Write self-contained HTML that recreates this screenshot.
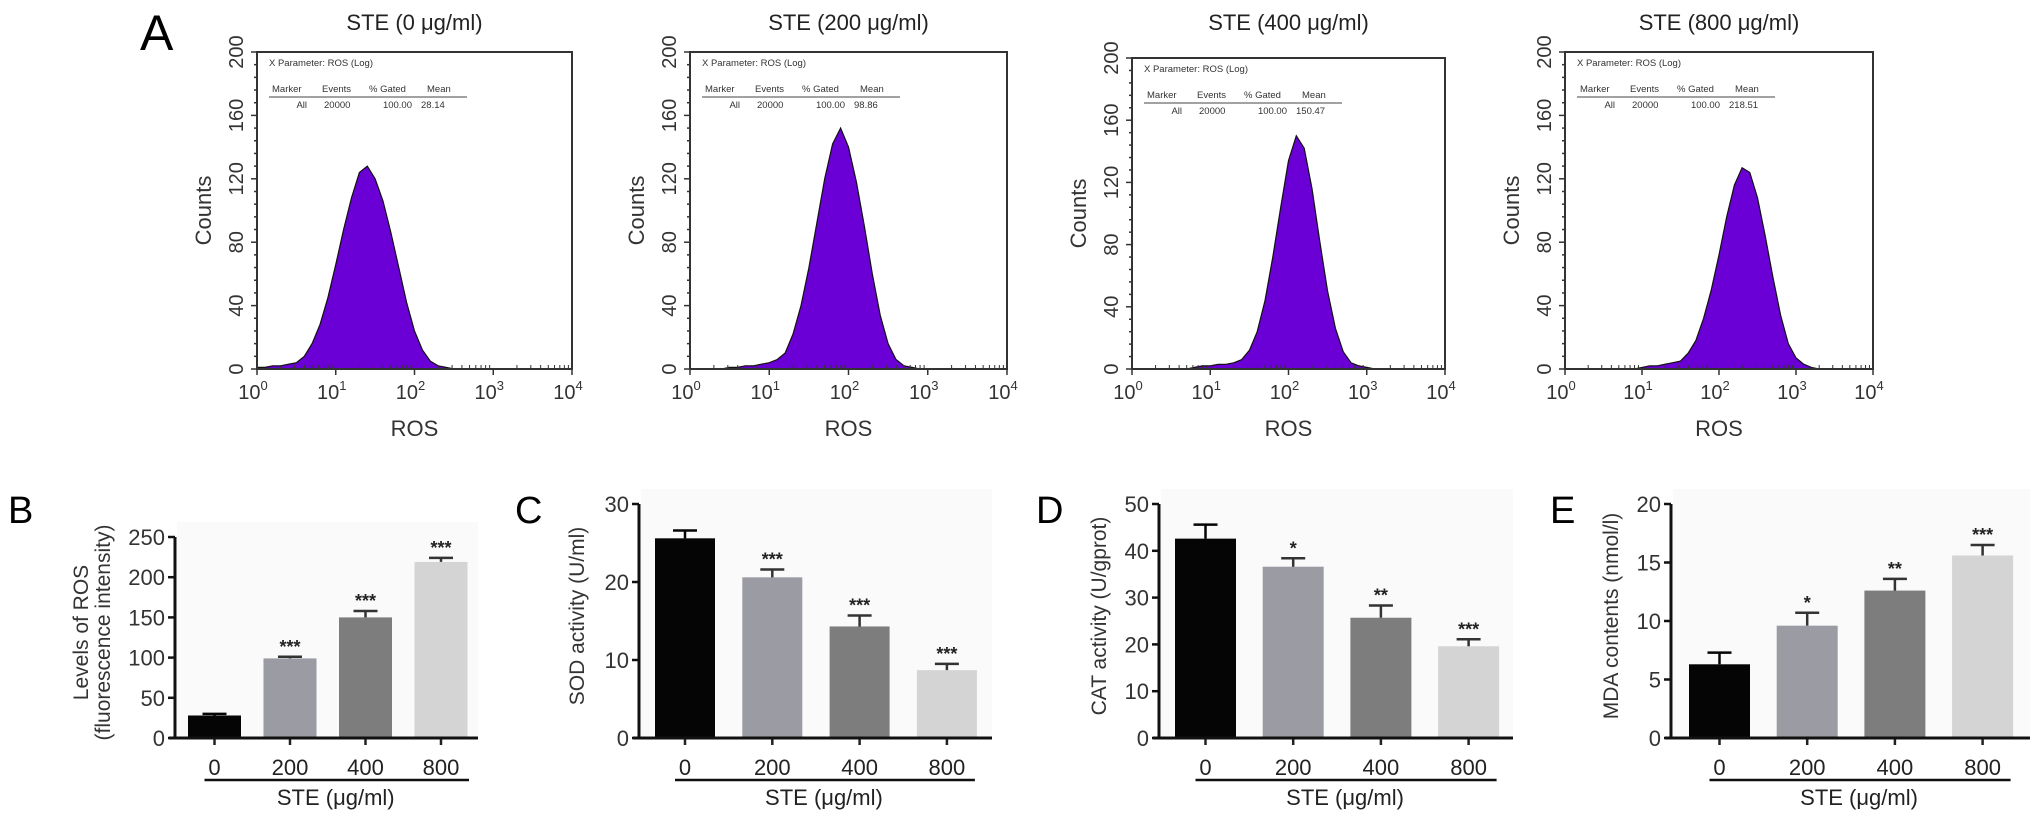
<!DOCTYPE html>
<html><head><meta charset="utf-8"><style>
body{margin:0;background:#fff;}
svg{display:block;font-family:"Liberation Sans",Arial,sans-serif;}
</style></head><body>
<svg id="fig" width="2032" height="813" viewBox="0 0 2032 813" xmlns="http://www.w3.org/2000/svg">
<text x="140" y="50" font-size="50">A</text>
<text x="8" y="523" font-size="38">B</text>
<text x="515" y="523" font-size="38">C</text>
<text x="1036" y="523" font-size="38">D</text>
<text x="1550" y="523" font-size="38">E</text>
<g id="hists"></g>
<g id="bars"></g>
</svg>
<script>
// ---------- Histogram data (counts sampled every 0.1 decade, log10 0..4) ----------
const histTitles = ["STE (0 μg/ml)","STE (200 μg/ml)","STE (400 μg/ml)","STE (800 μg/ml)"];
const histMeans = ["28.14","98.86","150.47","218.51"];
const hist0 = [1,1,2,2,3,4,8,16,28,45,66,88,108,124,128,120,106,86,64,42,24,12,5,2,1,0,0,0,0,0,0,0,0,0,0,0,0,0,0,0,0];
const hist200 = [0,0,0,0,0,1,1,2,2,3,4,6,10,22,40,64,92,120,142,152,140,118,90,60,34,16,6,2,1,0,0,0,0,0,0,0,0,0,0,0,0];
const hist400 = [0,0,0,0,0,0,0,0,1,2,2,3,3,4,6,12,24,44,72,104,134,150,142,116,82,50,26,11,4,2,1,0,0,0,0,0,0,0,0,0,0];
const hist800 = [0,0,0,0,0,0,0,0,0,0,1,2,2,3,4,5,10,18,32,50,72,96,116,127,124,108,84,58,34,16,7,3,1,0,0,0,0,0,0,0,0];
const histSeries = [hist0,hist200,hist400,hist800];
const countTicks = [0,40,80,120,160,200];
const decadeLabels = ["0","1","2","3","4"];

// ---------- Bar chart data ----------
const barCats = ["0","200","400","800"];
const rosVals = [28,99,150,219];
const rosErr = [2,2,8,5];
const rosStars = ["","***","***","***"];
const sodVals = [25.6,20.6,14.3,8.7];
const sodErr = [1,1,1.4,0.8];
const sodStars = ["","***","***","***"];
const catVals = [42.6,36.6,25.7,19.6];
const catErr = [3,1.8,2.6,1.5];
const catStars = ["","*","**","***"];
const mdaVals = [6.3,9.6,12.6,15.6];
const mdaErr = [1,1.1,1,0.9];
const mdaStars = ["","*","**","***"];
const rosTicks = [0,50,100,150,200,250];
const sodTicks = [0,10,20,30];
const catTicks = [0,10,20,30,40,50];
const mdaTicks = [0,5,10,15,20];

const NS="http://www.w3.org/2000/svg";
function el(tag,attrs,parent,txt){const e=document.createElementNS(NS,tag);for(const k in attrs)e.setAttribute(k,attrs[k]);if(txt!==undefined)e.textContent=txt;parent.appendChild(e);return e;}

// ---------- Histograms ----------
const histLayout=[{x0:257,x1:572,top:52},{x0:690,x1:1007,top:52},{x0:1132,x1:1445,top:58},{x0:1565,x1:1873,top:52}];
const H=document.getElementById('hists');
histLayout.forEach((L,i)=>{
  const g=el('g',{},H);
  
  
  const bottom=369;
  const xs=v=>L.x0+(v/4)*(L.x1-L.x0);
  const ys=c=>bottom-(c/200)*(bottom-L.top);
  const cx=(L.x0+L.x1)/2;
  const t=el('text',{x:cx,y:30,'font-size':22,'text-anchor':'middle',fill:'#222'},g,histTitles[i]);
  
  
  // fill path
  const data=histSeries[i];
  let d='M'+xs(0)+','+ys(0);
  data.forEach((c,j)=>{d+=' L'+xs(j*0.1).toFixed(1)+','+ys(c).toFixed(1);});
  d+=' L'+xs(4)+','+ys(0)+' Z';
  const p=el('path',{d:d,fill:'#6a00d6',stroke:'#111','stroke-width':1.2},g);
  
  
  // frame
  const fr=el('rect',{x:L.x0,y:L.top,width:L.x1-L.x0,height:bottom-L.top,fill:'none',stroke:'#333','stroke-width':2},g);
  
  
  // y ticks
  for(let c=0;c<=200;c+=8){el('line',{x1:L.x0-(c%40===0?6:3),x2:L.x0,y1:ys(c),y2:ys(c),stroke:'#333','stroke-width':1.5},g);}
  countTicks.forEach(c=>{
    const tl=el('text',{x:0,y:0,'font-size':20,'text-anchor':'middle',fill:'#333',transform:`translate(${L.x0-14},${ys(c)}) rotate(-90)`},g,String(c));
    
    
  });
  const yl=el('text',{x:0,y:0,'font-size':22,'text-anchor':'middle',fill:'#333',transform:`translate(${L.x0-46},${(L.top+bottom)/2}) rotate(-90)`},g,'Counts');
  
  
  // x ticks
  decadeLabels.forEach((lab,k)=>{
    el('line',{x1:xs(k),x2:xs(k),y1:bottom,y2:bottom+6,stroke:'#333','stroke-width':1.5},g);
    if(k<4){for(let m=2;m<10;m++){const xv=xs(k+Math.log10(m));el('line',{x1:xv,x2:xv,y1:bottom,y2:bottom-4,stroke:'#333','stroke-width':1},g);}}
    const tl=el('text',{x:xs(k)-4,y:bottom+30,'font-size':20,'text-anchor':'middle',fill:'#333'},g,'10');
    el('tspan',{dy:-9,'font-size':13},tl,lab);
    
    
  });
  const xl=el('text',{x:cx,y:436,'font-size':22,'text-anchor':'middle',fill:'#333'},g,'ROS');
  
  
  // stats box
  const sb=el('g',{'font-size':9.5,fill:'#333'},g);
  
  
  const bx=L.x0+12;
  el('text',{x:bx,y:L.top+14},sb,'X Parameter: ROS (Log)');
  el('text',{x:bx+3,y:L.top+40},sb,'Marker');
  el('text',{x:bx+53,y:L.top+40},sb,'Events');
  el('text',{x:bx+100,y:L.top+40},sb,'% Gated');
  el('text',{x:bx+158,y:L.top+40},sb,'Mean');
  el('line',{x1:bx,x2:bx+198,y1:L.top+45,y2:L.top+45,stroke:'#444','stroke-width':1},sb);
  el('text',{x:bx+38,y:L.top+56,'text-anchor':'end'},sb,'All');
  el('text',{x:bx+55,y:L.top+56},sb,'20000');
  el('text',{x:bx+143,y:L.top+56,'text-anchor':'end'},sb,'100.00');
  el('text',{x:bx+152,y:L.top+56},sb,histMeans[i]);
});

// ---------- Bar charts ----------
const barColors=['#050505','#9b9ba3','#7d7d7d','#d4d4d4'];
const charts=[
 {name:'ros-bar-chart',vals:rosVals,err:rosErr,stars:rosStars,ticks:rosTicks,ax:175,bx:188,bw:53,step:75.5,end:478,top:537,title:['Levels of ROS','(fluorescence intensity)'],tx:[88,110]},
 {name:'sod-bar-chart',vals:sodVals,err:sodErr,stars:sodStars,ticks:sodTicks,ax:639,bx:655,bw:60,step:87.3,end:992,top:504,title:['SOD activity (U/ml)'],tx:[584]},
 {name:'cat-bar-chart',vals:catVals,err:catErr,stars:catStars,ticks:catTicks,ax:1159,bx:1175,bw:61,step:87.7,end:1513,top:504,title:['CAT activity (U/gprot)'],tx:[1106]},
 {name:'mda-bar-chart',vals:mdaVals,err:mdaErr,stars:mdaStars,ticks:mdaTicks,ax:1671,bx:1689,bw:61,step:87.7,end:2030,top:504,title:['MDA contents (nmol/l)'],tx:[1618]}
];
const B=document.getElementById('bars');
charts.forEach(C=>{
  const g=el('g',{},B);
  
  
  const y0=738, ymax=C.ticks[C.ticks.length-1];
  const ys=v=>y0-(v/ymax)*(y0-C.top);
  const xc=i=>C.bx+i*C.step+C.bw/2;
  el('rect',{x:C.ax+2,y:C.top-15,width:C.end-C.ax-2,height:y0-C.top+13,fill:'#fafafa'},g);
  C.vals.forEach((v,i)=>{
    const r=el('rect',{x:C.bx+i*C.step,y:ys(v),width:C.bw,height:y0-ys(v),fill:barColors[i]},g);
    
    
    const ye=ys(v+C.err[i]);
    const eb=el('path',{d:`M${xc(i)},${ys(v)} V${ye} M${xc(i)-12},${ye} H${xc(i)+12}`,stroke:i===0?'#050505':'#333','stroke-width':2.5,fill:'none'},g);
    
    
    if(C.stars[i]){
      const s=el('text',{x:xc(i),y:ye-4,'font-size':18,'font-weight':'bold','text-anchor':'middle',fill:'#222'},g,C.stars[i]);
      
      
    }
    el('line',{x1:xc(i),x2:xc(i),y1:y0,y2:y0+7,stroke:'#222','stroke-width':2.5},g);
    const cl=el('text',{x:xc(i),y:775,'font-size':22,'text-anchor':'middle',fill:'#222'},g,barCats[i]);
    
    
  });
  el('line',{x1:C.ax,x2:C.ax,y1:C.top,y2:y0,stroke:'#111','stroke-width':3},g);
  el('line',{x1:C.ax-6,x2:C.end,y1:y0,y2:y0,stroke:'#111','stroke-width':3},g);
  C.ticks.forEach(t=>{
    el('line',{x1:C.ax-7,x2:C.ax,y1:ys(t),y2:ys(t),stroke:'#111','stroke-width':2.5},g);
    const tl=el('text',{x:C.ax-10,y:ys(t)+8,'font-size':22,'text-anchor':'end',fill:'#333'},g,String(t));
    
    
  });
  const ul=el('line',{x1:xc(0)-10,x2:xc(3)+28,y1:780,y2:780,stroke:'#111','stroke-width':2.5},g);
  
  
  const gx=el('text',{x:(xc(0)+xc(3))/2+8,y:805,'font-size':22,'text-anchor':'middle',fill:'#222'},g,'STE (μg/ml)');
  
  
  C.title.forEach((line,k)=>{
    const tt=el('text',{x:0,y:0,'font-size':21,'text-anchor':'middle',fill:'#333',transform:`translate(${C.tx[k]},${(C.top+y0)/2-5}) rotate(-90)`},g,line);
    
    
  });
});
</script>
</body></html>
